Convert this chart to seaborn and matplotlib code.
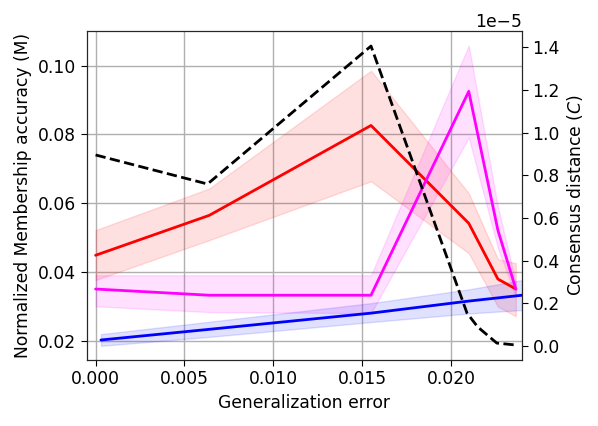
import seaborn as sns
import matplotlib.pyplot as plt
import pandas as pd
import numpy as np

sns.set_style("white")
plt.rcParams['font.family'] = ['DejaVu Sans']
plt.rcParams['font.size'] = 12.3
plt.rcParams['text.color'] = 'black'
plt.rcParams['axes.labelcolor'] = 'black'
plt.rcParams['xtick.color'] = 'black'
plt.rcParams['ytick.color'] = 'black'

# x positions (generalization error)
gen_err = [0.0, 0.0064, 0.0155, 0.0210, 0.02264, 0.02365]
blue_x = [0.0003, 0.0064, 0.0155, 0.0210, 0.0240]

# membership accuracy, red series
red_mean = [0.0449, 0.0565, 0.0826, 0.0542, 0.0380, 0.0351]
red_low = [0.0377, 0.0493, 0.0664, 0.0455, 0.0300, 0.0272]
red_high = [0.0522, 0.0643, 0.0985, 0.0629, 0.0438, 0.0426]

# membership accuracy, magenta series
mag_mean = [0.0351, 0.0333, 0.0333, 0.0925, 0.0522, 0.0351]
mag_low = [0.0301, 0.0284, 0.0281, 0.0791, 0.0470, 0.0330]
mag_high = [0.0391, 0.0391, 0.0391, 0.1058, 0.0590, 0.0370]

# membership accuracy, blue series
blue_mean = [0.0203, 0.0234, 0.0281, 0.0316, 0.0333]
blue_low = [0.0186, 0.0212, 0.0255, 0.0280, 0.0290]
blue_high = [0.0220, 0.0256, 0.0310, 0.0350, 0.0377]

# consensus distance (x1e-5), black dashed
cons_x = [0.0, 0.0063, 0.0155, 0.0209, 0.0215, 0.02258, 0.02365]
cons = [0.895e-5, 0.759e-5, 1.405e-5, 0.155e-5, 0.090e-5, 0.014e-5, 0.005e-5]

fig, ax = plt.subplots(figsize=(5.98, 4.26), dpi=100)
fig.subplots_adjust(left=0.145, right=0.873, bottom=0.155, top=0.927)

ax.fill_between(gen_err, red_low, red_high, color='red', alpha=0.12)
ax.fill_between(gen_err, mag_low, mag_high, color='magenta', alpha=0.12)
ax.fill_between(blue_x, blue_low, blue_high, color='blue', alpha=0.12)

df_red = pd.DataFrame({'x': gen_err, 'y': red_mean})
df_mag = pd.DataFrame({'x': gen_err, 'y': mag_mean})
df_blue = pd.DataFrame({'x': blue_x, 'y': blue_mean})
sns.lineplot(data=df_red, x='x', y='y', color='red', lw=2, ax=ax, sort=False)
sns.lineplot(data=df_mag, x='x', y='y', color='magenta', lw=2, ax=ax, sort=False)
sns.lineplot(data=df_blue, x='x', y='y', color='blue', lw=2, ax=ax, sort=False)

ax.set_xlim(-0.0005, 0.024)
ax.set_ylim(0.0145, 0.110)
ax.set_yticks([0.02, 0.04, 0.06, 0.08, 0.10])
ax.set_xticks([0.0, 0.005, 0.010, 0.015, 0.020])
ax.set_xlabel("Generalization error")
ax.set_ylabel("Normalized Membership accuracy (M)")
ax.grid(True, color='#b0b0b0', lw=1)
ax.tick_params(axis='both', direction='out', length=4, left=True, bottom=True)
for s in ax.spines.values():
    s.set_color('black')

ax2 = ax.twinx()
df_cons = pd.DataFrame({'x': cons_x, 'y': cons})
sns.lineplot(data=df_cons, x='x', y='y', color='black', lw=2, ls='--', ax=ax2, sort=False)
ax2.set_ylabel("Consensus distance ($C$)")
ax2.set_yticks([0.0, 0.2e-5, 0.4e-5, 0.6e-5, 0.8e-5, 1.0e-5, 1.2e-5, 1.4e-5])
ax2.tick_params(axis='y', direction='out', length=4, right=True)
ax2.set_xlim(-0.0005, 0.024)
ax2.grid(False)

plt.savefig("out.png", dpi=100)
